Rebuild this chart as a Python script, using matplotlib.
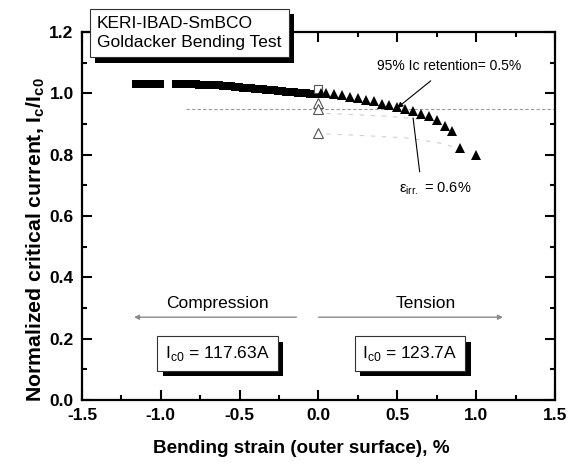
import matplotlib
matplotlib.use("Agg")
import matplotlib.pyplot as plt
from matplotlib import patheffects
from matplotlib.ticker import MultipleLocator

plt.rcParams['font.family'] = ['Liberation Sans', 'DejaVu Sans']
plt.rcParams['axes.unicode_minus'] = False

# ---- data ----
comp_strain_1 = [-1.155, -1.13, -1.105, -1.08, -1.055, -1.03, -1.005]
comp_ic_1 = [1.030, 1.030, 1.030, 1.030, 1.030, 1.030, 1.030]
comp_strain_2 = [-0.905, -0.88, -0.855, -0.83, -0.805, -0.78, -0.755, -0.73, -0.705,
                 -0.68, -0.655, -0.63, -0.605, -0.58, -0.555, -0.53, -0.505, -0.48,
                 -0.455, -0.43, -0.405, -0.38, -0.355, -0.33, -0.305, -0.28, -0.255,
                 -0.23, -0.205, -0.18, -0.155, -0.13, -0.105, -0.08, -0.055, -0.03, -0.01]
comp_ic_2 = [1.030, 1.030, 1.030, 1.030, 1.030, 1.030, 1.029, 1.029, 1.029,
             1.028, 1.027, 1.026, 1.025, 1.024, 1.023, 1.021, 1.020, 1.019,
             1.018, 1.017, 1.015, 1.014, 1.013, 1.012, 1.011, 1.010, 1.009,
             1.007, 1.006, 1.005, 1.003, 1.002, 1.001, 1.000, 0.999, 0.998, 0.997]
tens_strain = [0.015, 0.05, 0.10, 0.15, 0.20, 0.25, 0.30, 0.35, 0.40, 0.45, 0.50,
               0.55, 0.60, 0.65, 0.70, 0.75, 0.80, 0.85, 0.90, 1.00]
tens_ic = [1.000, 1.001, 0.997, 0.994, 0.989, 0.985, 0.979, 0.974, 0.967, 0.963, 0.956,
           0.949, 0.941, 0.934, 0.927, 0.913, 0.893, 0.876, 0.822, 0.799]
rev_strain = [0.0, 0.0, 0.0]
rev_ic = [0.970, 0.950, 0.870]
rev_sq_strain = [0.0]
rev_sq_ic = [1.015]
faint1_strain = [0.05, 0.25, 0.45, 0.60, 0.75]
faint1_ic = [0.935, 0.930, 0.925, 0.918, 0.908]
faint2_strain = [0.05, 0.30, 0.55, 0.75, 0.92]
faint2_ic = [0.868, 0.862, 0.855, 0.840, 0.818]
ret95_x = [-0.84, 1.5]
ret95_y = [0.95, 0.95]

fig = plt.figure(figsize=(5.79, 4.65), dpi=100)
ax = fig.add_axes([0.1416, 0.1398, 0.8169, 0.7912])

ax.plot(ret95_x, ret95_y, color='#9a9a9a', lw=0.8, ls=(0, (3, 2)), zorder=1)
ax.plot(faint1_strain, faint1_ic, color='#d0d0d0', lw=0.8, ls=(0, (4, 6)), zorder=1)
ax.plot(faint2_strain, faint2_ic, color='#d0d0d0', lw=0.8, ls=(0, (4, 6)), zorder=1)

ax.plot(comp_strain_1, comp_ic_1, ls='none', marker='s', ms=5.8, color='black', mew=0, zorder=3)
ax.plot(comp_strain_2, comp_ic_2, ls='none', marker='s', ms=5.8, color='black', mew=0, zorder=3)
ax.plot(rev_sq_strain, rev_sq_ic, ls='none', marker='s', ms=6, mfc='white', mec='#555555', mew=0.8, zorder=4)
ax.plot(rev_strain, rev_ic, ls='none', marker='^', ms=7, mfc='white', mec='#555555', mew=0.8, zorder=4)
ax.plot(tens_strain, tens_ic, ls='none', marker='^', ms=7.5, color='black', mew=0, zorder=5)

ax.set_xlim(-1.5, 1.5)
ax.set_ylim(0.0, 1.2)
ax.xaxis.set_major_locator(MultipleLocator(0.5))
ax.xaxis.set_minor_locator(MultipleLocator(0.25))
ax.yaxis.set_major_locator(MultipleLocator(0.2))
ax.yaxis.set_minor_locator(MultipleLocator(0.1))
ax.tick_params(which='both', direction='in', top=True, right=True, width=1.5)
ax.tick_params(which='major', length=7, labelsize=12.5, pad=6)
ax.tick_params(which='minor', length=3.5)
for lab in ax.get_xticklabels() + ax.get_yticklabels():
    lab.set_fontweight('bold')
for sp in ax.spines.values():
    sp.set_linewidth(1.6)

ax.set_xlabel('Bending strain (outer surface), %', fontsize=13.6, fontweight='bold')
ax.xaxis.set_label_coords(0.463, -0.108)
ax.set_ylabel(r'Normalized critical current, I$_\mathregular{c}$/I$_\mathregular{c0}$',
              fontsize=15.3, fontweight='bold')
ax.yaxis.set_label_coords(-0.074, 0.435)

# annotations
ax.annotate('95% Ic retention= 0.5%', xy=(0.50, 0.953), xytext=(0.83, 1.09),
            ha='center', va='center', fontsize=10,
            arrowprops=dict(arrowstyle='-|>', color='black', lw=0.8, mutation_scale=8,
                            shrinkA=6, shrinkB=0))
ax.annotate(r'ε$_\mathregular{irr.}$ = 0.6%', xy=(0.60, 0.92), xytext=(0.74, 0.69),
            ha='center', va='center', fontsize=10.5,
            arrowprops=dict(arrowstyle='-', color='black', lw=0.8,
                            shrinkA=4, shrinkB=0, relpos=(0.3, 1.0)))

shadow = [patheffects.withSimplePatchShadow(offset=(4, -4), shadow_rgbFace='black', alpha=1.0)]

t = fig.text(97 / 579, 1 - 33 / 465, 'KERI-IBAD-SmBCO\nGoldacker Bending Test',
             ha='left', va='center', fontsize=12.5, linespacing=1.3,
             bbox=dict(boxstyle='square,pad=0.42', fc='white', ec='#333333', lw=0.8))
t.get_bbox_patch().set_path_effects(shadow)

ax.text(-0.64, 0.315, 'Compression', ha='center', va='center', fontsize=12.5)
ax.annotate('', xy=(-1.17, 0.27), xytext=(-0.14, 0.27),
            arrowprops=dict(arrowstyle='-|>', color='#8a8a8a', lw=1.0, mutation_scale=7,
                            shrinkA=0, shrinkB=0))
ax.text(0.68, 0.315, 'Tension', ha='center', va='center', fontsize=12.5)
ax.annotate('', xy=(1.17, 0.27), xytext=(0.0, 0.27),
            arrowprops=dict(arrowstyle='-|>', color='#8a8a8a', lw=1.0, mutation_scale=7,
                            shrinkA=0, shrinkB=0))

for xc, s in [(-0.64, r'I$_\mathregular{c0}$ = 117.63A'), (0.58, r'I$_\mathregular{c0}$ = 123.7A')]:
    tb = ax.text(xc, 0.152, s, ha='center', va='center', fontsize=12.5,
                 bbox=dict(boxstyle='square,pad=0.45', fc='white', ec='#333333', lw=0.8))
    tb.get_bbox_patch().set_path_effects(shadow)

fig.savefig('out.png', dpi=100)
